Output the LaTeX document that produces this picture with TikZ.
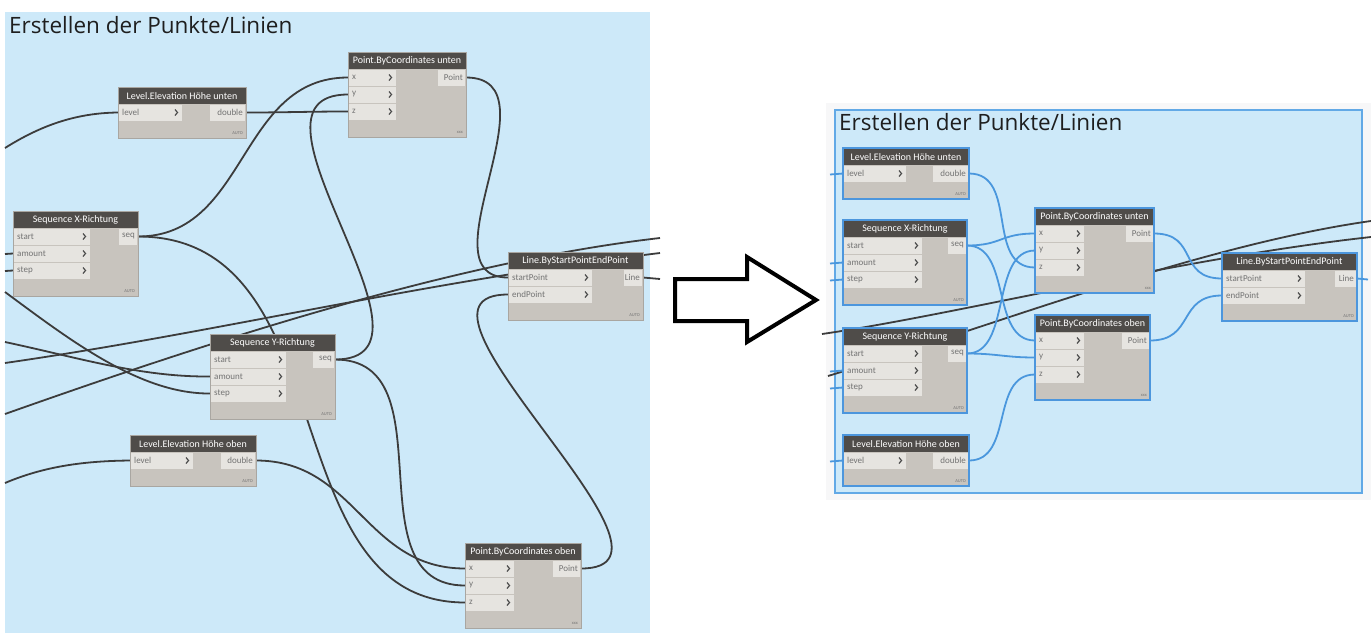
\documentclass[tikz,border=0pt]{standalone}
\usepackage{fontspec}
\setmainfont{Open Sans}
\newfontfamily\nodefont{Carlito}
\pgfdeclarelayer{panel}
\pgfdeclarelayer{wires}
\pgfsetlayers{panel,wires,main}
\definecolor{panelblue}{HTML}{CDE9F9}
\definecolor{panelborder}{HTML}{62A9E6}
\definecolor{hdrcol}{HTML}{4F4C49}
\definecolor{bodycol}{HTML}{C8C4BE}
\definecolor{portcol}{HTML}{E6E4E0}
\definecolor{porttextcol}{HTML}{737373}
\definecolor{framegray}{HTML}{A9A6A1}
\definecolor{selblue}{HTML}{4C96DD}
\definecolor{wiregray}{HTML}{3C3C3C}
\definecolor{wireblue}{HTML}{4A97DD}
\definecolor{titlecol}{HTML}{1E1E1E}
\definecolor{chevgray}{HTML}{4A4A4A}
\definecolor{surround}{HTML}{F7F7F8}
\tikzset{
  nodeframe/.style={draw=framegray, line width=0.8pt},
  selframe/.style={draw=selblue, line width=1.6pt},
  hdrtext/.style={text=white, font=\nodefont\fontsize{10}{11}\selectfont, inner sep=0pt},
  porttext/.style={text=porttextcol, font=\nodefont\fontsize{9}{10}\selectfont, inner sep=0pt},
  foottext/.style={text=porttextcol, font=\nodefont\fontsize{4.5}{5}\selectfont, inner sep=0pt},
  chev/.style={draw=chevgray, line width=1.2pt},
  wire/.style={draw=wiregray, line width=1.8pt},
  bwire/.style={draw=wireblue, line width=1.8pt},
  titletext/.style={font=\fontsize{22.5}{26}\selectfont, text=titlecol, inner sep=0pt},
  blockarrow/.style={draw=black, line width=4pt, miter limit=10},
}
% #1 id, #2 x, #3 y, #4 w, #5 rows, #6 title, #7 footer, #8 frame style
\newcommand{\DynNode}[8]{%
  \pgfmathsetmacro{\dnH}{34+17*#5}%
  \fill[bodycol] (#2,#3) rectangle ++(#4,\dnH);
  \fill[hdrcol] (#2,#3) rectangle ++(#4,17);
  \node[hdrtext] at (#2+#4/2,#3+9) {#6};
  \node[foottext,anchor=south east] at (#2+#4-3,#3+\dnH-3) {#7};
  \node[#8, anchor=north west, minimum width=#4pt, minimum height=\dnH pt, inner sep=0pt, outer sep=0pt] (#1) at (#2,#3) {};
}
% #1 id, #2 port, #3 x, #4 ytop, #5 k, #6 w, #7 label
\newcommand{\InPort}[7]{%
  \pgfmathsetmacro{\dnRow}{#4+17+17*#5+0.5}%
  \fill[portcol] (#3+1,\dnRow) rectangle ++(#6-1,16);
  \node[porttext,anchor=west] at (#3+4,\dnRow+8) {#7};
  \draw[chev] (#3+#6-7,\dnRow+5) -- ++(2.5,3) -- ++(-2.5,3);
  \coordinate (#1-#2) at (#3,\dnRow+8);
}
% #1 id, #2 port, #3 xright, #4 ytop, #5 k, #6 w, #7 label
\newcommand{\OutPort}[7]{%
  \pgfmathsetmacro{\dnRow}{#4+17+17*#5+0.5}%
  \fill[portcol] (#3-#6,\dnRow) rectangle (#3-1,\dnRow+16);
  \node[porttext,anchor=east] at (#3-3,\dnRow+8) {#7};
  \coordinate (#1-#2) at (#3,\dnRow+8);
}
\begin{document}
\begin{tikzpicture}[x=1pt,y=-1pt]
\useasboundingbox (0,0) rectangle (1371,633);
\begin{pgfonlayer}{panel}
  \fill[white] (0,0) rectangle (1371,633);
  \fill[panelblue] (5,12) rectangle (650,633);
  \fill[surround] (826,103) rectangle (1371,500);
  \fill[panelblue] (835,110) rectangle (1362,493);
  \draw[panelborder, line width=1.2pt] (835,110) rectangle (1362,493);
\end{pgfonlayer}

\node[titletext, anchor=base west] (t1) at (9,33) {Erstellen der Punkte/Linien};
\node[titletext, anchor=base west] (t2) at (839,130) {Erstellen der Punkte/Linien};

% ---------- left group ----------
\DynNode{lu}{118}{87}{128}{1}{Level.Elevation Höhe unten}{AUTO}{nodeframe}
\InPort{lu}{level}{118}{87}{0}{64}{level}
\OutPort{lu}{double}{246}{87}{0}{36}{double}

\DynNode{pu}{348}{52}{118}{3}{Point.ByCoordinates unten}{xxx}{nodeframe}
\InPort{pu}{x}{348}{52}{0}{48}{x}
\InPort{pu}{y}{348}{52}{1}{48}{y}
\InPort{pu}{z}{348}{52}{2}{48}{z}
\OutPort{pu}{Point}{466}{52}{0}{28}{Point}

\DynNode{sx}{13}{211}{125}{3}{Sequence X-Richtung}{AUTO}{nodeframe}
\InPort{sx}{start}{13}{211}{0}{77}{start}
\InPort{sx}{amount}{13}{211}{1}{77}{amount}
\InPort{sx}{step}{13}{211}{2}{77}{step}
\OutPort{sx}{seq}{138}{211}{0}{19}{seq}

\DynNode{ln}{508}{252}{135}{2}{Line.ByStartPointEndPoint}{AUTO}{nodeframe}
\InPort{ln}{startPoint}{508}{252}{0}{84}{startPoint}
\InPort{ln}{endPoint}{508}{252}{1}{84}{endPoint}
\OutPort{ln}{Line}{643}{252}{0}{19}{Line}

\DynNode{sy}{210}{334}{125}{3}{Sequence Y-Richtung}{AUTO}{nodeframe}
\InPort{sy}{start}{210}{334}{0}{76}{start}
\InPort{sy}{amount}{210}{334}{1}{76}{amount}
\InPort{sy}{step}{210}{334}{2}{76}{step}
\OutPort{sy}{seq}{335}{334}{0}{22}{seq}

\DynNode{lo}{130}{435}{126}{1}{Level.Elevation Höhe oben}{AUTO}{nodeframe}
\InPort{lo}{level}{130}{435}{0}{63}{level}
\OutPort{lo}{double}{256}{435}{0}{35}{double}

\DynNode{po}{465}{543}{116}{3}{Point.ByCoordinates oben}{xxx}{nodeframe}
\InPort{po}{x}{465}{543}{0}{49}{x}
\InPort{po}{y}{465}{543}{1}{49}{y}
\InPort{po}{z}{465}{543}{2}{49}{z}
\OutPort{po}{Point}{581}{543}{0}{28}{Point}

% ---------- right group ----------
\DynNode{rlu}{843}{148}{126}{1}{Level.Elevation Höhe unten}{AUTO}{selframe}
\InPort{rlu}{level}{843}{148}{0}{63}{level}
\OutPort{rlu}{double}{969}{148}{0}{36}{double}

\DynNode{rsx}{843}{220}{124}{3}{Sequence X-Richtung}{AUTO}{selframe}
\InPort{rsx}{start}{843}{220}{0}{79}{start}
\InPort{rsx}{amount}{843}{220}{1}{79}{amount}
\InPort{rsx}{step}{843}{220}{2}{79}{step}
\OutPort{rsx}{seq}{967}{220}{0}{19}{seq}

\DynNode{rpu}{1035}{208}{119}{3}{Point.ByCoordinates unten}{xxx}{selframe}
\InPort{rpu}{x}{1035}{208}{0}{49}{x}
\InPort{rpu}{y}{1035}{208}{1}{49}{y}
\InPort{rpu}{z}{1035}{208}{2}{49}{z}
\OutPort{rpu}{Point}{1154}{208}{0}{28}{Point}

\DynNode{rln}{1222}{253}{135}{2}{Line.ByStartPointEndPoint}{AUTO}{selframe}
\InPort{rln}{startPoint}{1222}{253}{0}{83}{startPoint}
\InPort{rln}{endPoint}{1222}{253}{1}{83}{endPoint}
\OutPort{rln}{Line}{1357}{253}{0}{22}{Line}

\DynNode{rsy}{843}{328}{124}{3}{Sequence Y-Richtung}{AUTO}{selframe}
\InPort{rsy}{start}{843}{328}{0}{79}{start}
\InPort{rsy}{amount}{843}{328}{1}{79}{amount}
\InPort{rsy}{step}{843}{328}{2}{79}{step}
\OutPort{rsy}{seq}{967}{328}{0}{19}{seq}

\DynNode{rpo}{1035}{315}{115}{3}{Point.ByCoordinates oben}{xxx}{selframe}
\InPort{rpo}{x}{1035}{315}{0}{49}{x}
\InPort{rpo}{y}{1035}{315}{1}{49}{y}
\InPort{rpo}{z}{1035}{315}{2}{49}{z}
\OutPort{rpo}{Point}{1150}{315}{0}{28}{Point}

\DynNode{rlo}{843}{435}{126}{1}{Level.Elevation Höhe oben}{AUTO}{selframe}
\InPort{rlo}{level}{843}{435}{0}{63}{level}
\OutPort{rlo}{double}{969}{435}{0}{36}{double}

% ---------- arrow ----------
\draw[blockarrow] (675,279) -- (747,279) -- (747,257) -- (816,300) -- (747,342) -- (747,321) -- (675,321) -- cycle;

% ---------- wires ----------
\begin{pgfonlayer}{wires}
  % left group: free ends
  \coordinate (la) at (5,148);
  \coordinate (lb) at (5,254);
  \coordinate (lc) at (5,271);
  \coordinate (ld) at (5,292);
  \coordinate (le) at (5,342);
  \coordinate (lf) at (5,483);
  \coordinate (lg) at (5,414);
  \coordinate (lh) at (5,363);
  \coordinate (ra) at (660,238);
  \coordinate (rb) at (660,253);
  \coordinate (rc) at (660,279);
  \draw[wire] (la) .. controls (40,126) and (75,113) .. (lu-level);
  \draw[wire] (lb) -- (sx-amount);
  \draw[wire] (lc) -- (sx-step);
  \draw[wire] (ld) .. controls (70,340) and (140,394) .. (sy-step);
  \draw[wire] (le) .. controls (80,358) and (140,377) .. (sy-amount);
  \draw[wire] (lf) .. controls (45,466) and (85,461) .. (lo-level);
  \draw[wire] (lg) .. controls (200,345) and (450,262) .. (ra);
  \draw[wire] (lh) .. controls (220,332) and (420,282) .. (rb);
  \draw[wire] (ln-Line) -- (rc);
  \draw[wire] (lu-double) .. controls +(40,0) and +(-40,0) .. (pu-z);
  \draw[wire] (sx-seq) .. controls +(110,0) and +(-110,0) .. (pu-x);
  \draw[wire] (sx-seq) .. controls +(210,0) and +(-195,0) .. (po-z);
  \draw[wire] (sy-seq) .. controls +(125,0) and +(-125,0) .. (pu-y);
  \draw[wire] (lo-double) .. controls +(100,0) and +(-100,0) .. (po-x);
  \draw[wire] (sy-seq) .. controls +(115,0) and +(-115,0) .. (po-y);
  \draw[wire] (pu-Point) .. controls +(94,0) and +(-88,0) .. (ln-startPoint);
  \draw[wire] (po-Point) .. controls +(130,0) and +(-130,0) .. (ln-endPoint);

  % right group
  \coordinate (sa) at (830,174.5);
  \coordinate (sb) at (830,263.5);
  \coordinate (sc) at (830,280.5);
  \coordinate (sd) at (830,371.5);
  \coordinate (se) at (830,388.5);
  \coordinate (sf) at (830,461.5);
  \coordinate (sg) at (1368,279.5);
  \coordinate (ga) at (828,376);
  \coordinate (gb) at (1371,221);
  \coordinate (gc) at (822,334);
  \coordinate (gd) at (1371,237);
  \draw[wire] (ga) .. controls (980,330) and (1200,245) .. (gb);
  \draw[wire] (gc) .. controls (960,314) and (1180,258) .. (gd);
  \draw[bwire] (sa) -- (rlu-level);
  \draw[bwire] (sb) -- (rsx-amount);
  \draw[bwire] (sc) -- (rsx-step);
  \draw[bwire] (sd) -- (rsy-amount);
  \draw[bwire] (se) -- (rsy-step);
  \draw[bwire] (sf) -- (rlo-level);
  \draw[bwire] (rln-Line) -- (sg);
  \draw[bwire] (rlu-double) .. controls +(50,0) and +(-50,0) .. (rpu-z);
  \draw[bwire] (rsx-seq) .. controls +(35,0) and +(-35,0) .. (rpu-x);
  \draw[bwire] (rsx-seq) .. controls +(45,0) and +(-45,0) .. (rpo-x);
  \draw[bwire] (rsy-seq) .. controls +(45,0) and +(-45,0) .. (rpu-y);
  \draw[bwire] (rsy-seq) .. controls +(30,0) and +(-30,0) .. (rpo-y);
  \draw[bwire] (rlo-double) .. controls +(45,0) and +(-45,0) .. (rpo-z);
  \draw[bwire] (rpu-Point) .. controls +(45,0) and +(-45,0) .. (rln-startPoint);
  \draw[bwire] (rpo-Point) .. controls +(45,0) and +(-45,0) .. (rln-endPoint);
\end{pgfonlayer}
\end{tikzpicture}
\end{document}
